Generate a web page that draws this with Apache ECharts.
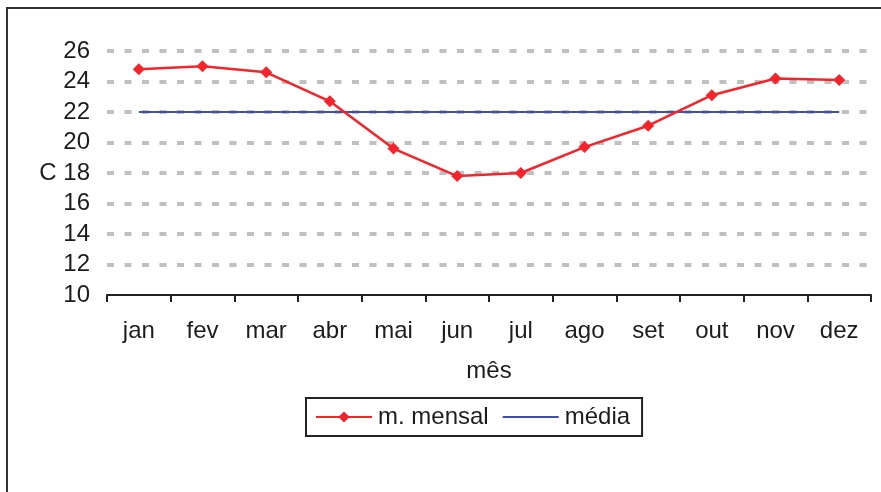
<!DOCTYPE html>
<html>
<head>
<meta charset="utf-8">
<script src="https://cdn.jsdelivr.net/npm/echarts@6/dist/echarts.min.js"></script>
<style>
  html, body { margin: 0; padding: 0; background: #fff; }
  #grafico { width: 881px; height: 492px; }
</style>
</head>
<body>
<div id="grafico"></div>
<script>
// dados
var meses = ['jan', 'fev', 'mar', 'abr', 'mai', 'jun', 'jul', 'ago', 'set', 'out', 'nov', 'dez'];
var mediaMensal = [24.8, 25.0, 24.6, 22.7, 19.6, 17.8, 18.0, 19.7, 21.1, 23.1, 24.2, 24.1];
var mediaAnual = [22, 22, 22, 22, 22, 22, 22, 22, 22, 22, 22, 22];
var nomes = ['m. mensal', 'média'];

var fonte = 'Liberation Sans, Arial, sans-serif';
var corTexto = '#1c1c1c';
var cinza = '#c0c0c0';

var myChart = echarts.init(document.getElementById('grafico'));

var option = {
    backgroundColor: '#fff',
    animation: false,
    textStyle: { fontFamily: fonte },
    graphic: [{
        // moldura externa
        type: 'rect',
        shape: { x: 7, y: 8, width: 920, height: 600 },
        style: { fill: 'none', stroke: '#333', lineWidth: 2 },
        silent: true
    }],
    legend: {
        data: [
            { name: nomes[0] },
            { name: nomes[1], icon: 'path://M0,0 L100,0 L100,4 L0,4 Z' }
        ],
        left: 306,
        top: 398,
        orient: 'horizontal',
        borderColor: '#222',
        borderWidth: 2,
        borderRadius: 0,
        padding: [7, 12, 7, 9],
        itemGap: 14,
        itemWidth: 56,
        itemHeight: 14,
        textStyle: { fontSize: 24, color: corTexto, fontFamily: fonte, padding: [0, 0, 0, 1] }
    },
    grid: {
        left: 107,
        right: 10,
        top: 51,
        bottom: 197,
        containLabel: false
    },
    xAxis: {
        type: 'category',
        data: meses,
        boundaryGap: true,
        name: 'mês',
        nameLocation: 'middle',
        nameGap: 64,
        nameTextStyle: { fontSize: 24, color: corTexto, fontFamily: fonte },
        axisLine: { lineStyle: { color: '#222', width: 2 }, z: 5 },
        axisTick: { show: true, length: 7, inside: false, lineStyle: { color: '#222', width: 2 } },
        axisLabel: { fontSize: 24, color: corTexto, margin: 24, fontFamily: fonte },
        splitLine: { show: false }
    },
    yAxis: {
        type: 'value',
        min: 10,
        max: 26,
        interval: 2,
        axisLine: { show: false },
        axisTick: { show: false },
        axisLabel: {
            fontSize: 24,
            color: corTexto,
            margin: 17,
            fontFamily: fonte,
            formatter: function (v) {
                return v === 18 ? 'C 18' : String(v);
            }
        },
        splitLine: {
            show: true,
            // a linha do 10 fica escondida pelo eixo
            lineStyle: {
                color: ['rgba(0,0,0,0)', cinza, cinza, cinza, cinza, cinza, cinza, cinza, cinza],
                width: 4,
                type: [7, 10.5]
            }
        }
    },
    series: [{
        name: nomes[0],
        type: 'line',
        data: mediaMensal,
        symbol: 'diamond',
        symbolSize: 12,
        lineStyle: { color: '#f5242b', width: 2.5 },
        itemStyle: { color: '#f5242b' },
        z: 3
    }, {
        name: nomes[1],
        type: 'line',
        data: mediaAnual,
        symbol: 'none',
        lineStyle: { color: '#3f51a6', width: 2 },
        itemStyle: { color: '#3f51a6' },
        z: 2
    }]
};

myChart.setOption(option);
</script>
</body>
</html>
